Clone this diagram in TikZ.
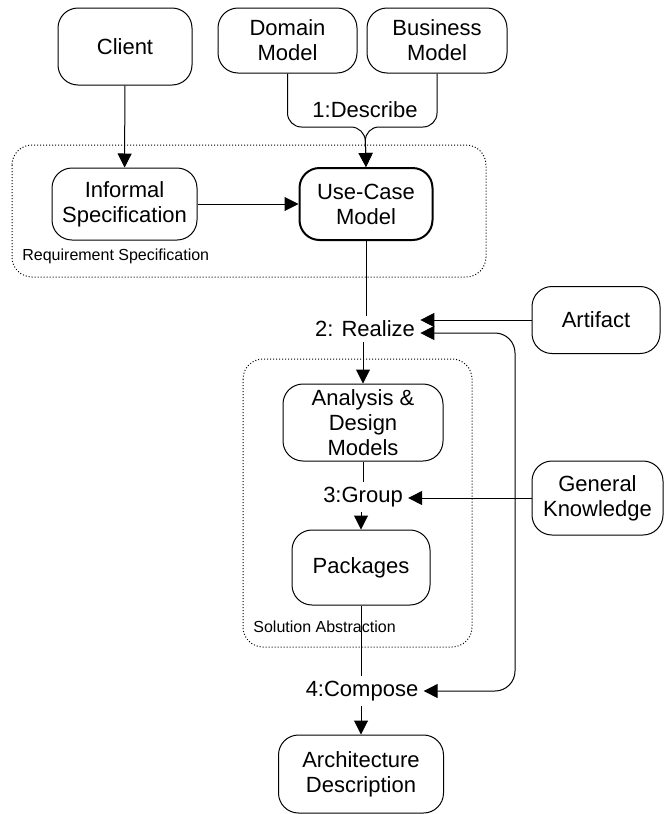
\documentclass[tikz,border=0pt]{standalone}
\usepackage{fontspec}
\setmainfont{Liberation Sans}
\usetikzlibrary{arrows.meta}

\begin{document}
\begin{tikzpicture}[x=0.5pt, y=-0.5pt,
		box/.style={draw, line width=0.5pt, rounded corners=10pt, align=center, inner sep=2pt, font=\fontsize{11}{12.5}\selectfont},
		steplabel/.style={inner sep=2.5pt, font=\fontsize{11}{12.5}\selectfont},
		area/.style={draw, line width=0.5pt, dash pattern=on 0.5pt off 1pt, rounded corners=10pt},
		arealabel/.style={anchor=west, inner sep=0pt, font=\fontsize{8}{9.6}\selectfont},
		link/.style={line width=0.5pt},
		flow/.style={line width=0.5pt, -{Triangle[length=7pt, width=7pt]}},
		both/.style={line width=0.5pt, {Triangle[length=7pt, width=7pt]}-{Triangle[length=7pt, width=7pt]}}]
		\useasboundingbox ( 0, 0 ) rectangle ( 664, 814 );

		% области
		\draw [area] ( 12, 145 ) rectangle ( 486, 277 );
		\node [arealabel] (reqlabel) at ( 22, 256 ) {Requirement Specification};
		\draw [area] ( 243, 359 ) rectangle ( 472, 647 );
		\node [arealabel] (sollabel) at ( 253, 627 ) {Solution Abstraction};

		% источники
		\node [box, minimum width=67pt, minimum height=38.5pt] (client) at ( 125, 46.5 ) {Client};
		\node [box, minimum width=69.5pt, minimum height=32.5pt] (domain) at ( 287.5, 40.5 ) {Domain\\Model};
		\node [box, minimum width=70pt, minimum height=32.5pt] (business) at ( 437, 40.5 ) {Business\\Model};

		% требования
		\node [box, minimum width=72.5pt, minimum height=36pt] (informal) at ( 124.5, 204 ) {Informal\\Specification};
		\node [box, line width=1pt, minimum width=66.5pt, minimum height=36pt] (usecase) at ( 366, 204 ) {Use-Case\\Model};

		% решение
		\node [box, minimum width=80pt, minimum height=38.5pt] (analysis) at ( 363, 422.5 ) {Analysis \&\\Design\\Models};
		\node [box, minimum width=69pt, minimum height=37.5pt] (packages) at ( 361, 567.5 ) {Packages};
		\node [box, minimum width=82.5pt, minimum height=39pt] (archi) at ( 361, 774 ) {Architecture\\Description};

		% знания
		\node [box, minimum width=64pt, minimum height=33.5pt] (artifact) at ( 596, 320 ) {Artifact};
		\node [box, minimum width=65.5pt, minimum height=37pt] (general) at ( 597.5, 498 ) {General\\Knowledge};

		% шаги
		\node [steplabel] (describe) at ( 365, 110 ) {1:Describe};
		\node [steplabel] (realize) at ( 365, 329 ) {2: Realize};
		\node [steplabel] (group) at ( 363, 497 ) {3:Group};
		\node [steplabel] (compose) at ( 362, 691 ) {4:Compose};
		\coordinate (meet) at ( 365, 127 );
		\coordinate (kbus) at ( 515, 500 );

		% 1
		\draw [flow] (client) -- (informal);
		\draw [flow, rounded corners=7pt] (domain.south) |- (meet) -- (usecase.north);
		\draw [flow, rounded corners=7pt] (business.south) |- (meet) -- (usecase.north);
		\draw [flow] (informal) -- (usecase);

		% 2
		\draw [link] (usecase.south) -- (usecase.south |- realize.north);
		\draw [flow] (artifact.west) -- (artifact.west -| realize.east);
		\draw [flow] (realize.south -| analysis.north) -- (analysis.north);
		\draw [both, rounded corners=10pt] ([yshift=-2pt]realize.east) -| (kbus) |- (compose.east);

		% 3
		\draw [link] (analysis.south) -- (analysis.south |- group.north);
		\draw [flow] (general.west) -- (general.west -| group.east);
		\draw [flow] (group.south -| packages.north) -- (packages.north);

		% 4
		\draw [link] (packages.south) -- (packages.south |- compose.north);
		\draw [flow] (compose.south -| archi.north) -- (archi.north);
	\end{tikzpicture}
\end{document}
